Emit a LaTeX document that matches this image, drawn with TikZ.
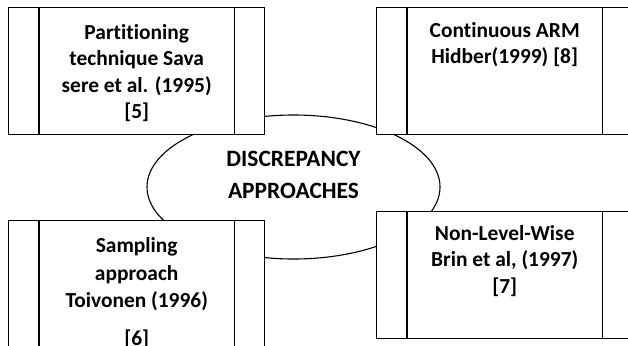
\documentclass[tikz,border=0pt]{standalone}
\usepackage{fontspec}
\setmainfont{Carlito}[Ligatures=NoCommon]
\usetikzlibrary{shapes.geometric}
\begin{document}
\begin{tikzpicture}[x=1bp,y=-1bp,
  blockbox/.style={draw,line width=1.4bp,fill=white,minimum width=256bp,minimum height=127bp,inner sep=0pt,anchor=north west},
  divline/.style={line width=1.4bp},
  boxtext/.style={anchor=north,inner sep=0pt,align=center,font=\fontsize{21.5}{26.7}\selectfont\bfseries},
  ovaltext/.style={boxtext,font=\fontsize{23.5}{26.7}\selectfont\bfseries},
  oval/.style={draw,ellipse,line width=1.1bp,minimum width=293bp,minimum height=144bp,inner sep=0pt}]
\useasboundingbox (0,0) rectangle (628,345);
\clip (0,0) rectangle (628,345);
% central ellipse
\node[oval] (disc) at (293.5,187) {};
% boxes
\node[blockbox] (b1) at (8,7) {};
\node[blockbox] (b2) at (376,7) {};
\node[blockbox] (b3) at (8,220) {};
\node[blockbox] (b4) at (376,211) {};
% dividers
\foreach \b in {b1,b2,b3,b4}{
  \draw[divline] ([xshift=31bp]\b.north west) -- ([xshift=31bp]\b.south west);
  \draw[divline] ([xshift=-31bp]\b.north east) -- ([xshift=-31bp]\b.south east);
}
% texts
\node[boxtext] (t1) at ([yshift=-13.3bp]b1.north) {\strut Partitioning\\technique Sava\\sere et al. (1995)\\{[5]}};
\node[boxtext] (t2) at ([yshift=-11.3bp]b2.north) {\strut Continuous ARM\\Hidber(1999) [8]};
\node[boxtext] (t3) at ([yshift=-13.3bp]b3.north) {\strut Sampling\\[1.8bp]approach\\[0.8bp]Toivonen (1996)\\[11bp]{[6]}};
\node[boxtext] (t4) at ([yshift=-10.3bp]b4.north) {\strut Non-Level-Wise\\Brin et al, (1997)\\{[7]}};
\node[ovaltext] (td) at (293.5,147.3) {\strut DISCREPANCY\\[6bp]APPROACHES};
\end{tikzpicture}
\end{document}
